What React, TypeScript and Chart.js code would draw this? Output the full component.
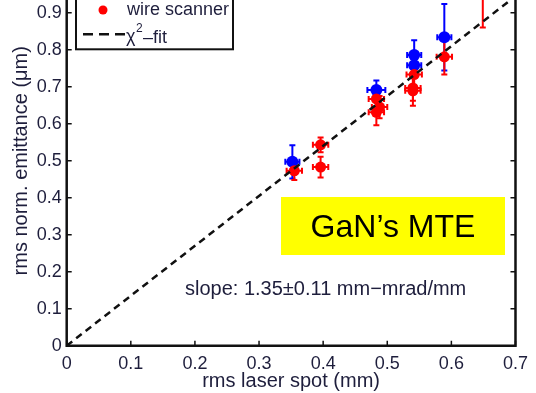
import React, { useEffect, useRef } from "react";
import Chart from "chart.js/auto";

// ---- data ----
const xTickValues = [0, 0.1, 0.2, 0.3, 0.4, 0.5, 0.6, 0.7];
const yTickValues = [0, 0.1, 0.2, 0.3, 0.4, 0.5, 0.6, 0.7, 0.8, 0.9, 1.0];

// wire scanner (red)
const redX = [0.355, 0.396, 0.396, 0.483, 0.488, 0.483, 0.542, 0.540, 0.540, 0.589, 0.649];
const redY = [0.473, 0.543, 0.483, 0.667, 0.645, 0.631, 0.733, 0.697, 0.689, 0.781, 0.95];
const redYErr = [0.025, 0.02, 0.028, 0.03, 0.03, 0.035, 0.03, 0.035, 0.04, 0.048, 0.09];
const redXErr = [0.012, 0.012, 0.012, 0.012, 0.012, 0.012, 0.012, 0.012, 0.012, 0.012, 0.012];

// second method (blue)
const blueX = [0.352, 0.483, 0.542, 0.542, 0.589];
const blueY = [0.497, 0.691, 0.786, 0.758, 0.834];
const blueYErr = [0.045, 0.026, 0.04, 0.03, 0.09];
const blueXErr = [0.011, 0.014, 0.011, 0.011, 0.011];

// chi^2 fit line
const fitX = [0, 0.7];
const fitY = [0, 0.945];

const legendLabels = ["wire scanner", "χ", "2", "–fit"];
const boxText = "GaN’s MTE";
const slopeText = "slope: 1.35±0.11 mm−mrad/mm";
const xTitle = "rms laser spot (mm)";
const yTitle = "rms norm. emittance (μm)";

const OFF = 40; // canvas shifted up so the top of the axes is cropped
const W = 536;
const H = 393 + OFF;
const TXT = "#1e1e3c";
const FONT = "'Liberation Sans', Arial, Helvetica, sans-serif";

function drawErr(ctx: CanvasRenderingContext2D, xs: any, ys: any, X: number[], Y: number[], EY: number[], EX: number[], color: string) {
  ctx.save();
  ctx.strokeStyle = color;
  ctx.lineWidth = 2;
  const cap = 3;
  for (let i = 0; i < X.length; i++) {
    const px = xs.getPixelForValue(X[i]);
    const py = ys.getPixelForValue(Y[i]);
    const y1 = ys.getPixelForValue(Y[i] + EY[i]);
    const y2 = ys.getPixelForValue(Y[i] - EY[i]);
    const x1 = xs.getPixelForValue(X[i] - EX[i]);
    const x2 = xs.getPixelForValue(X[i] + EX[i]);
    ctx.beginPath();
    ctx.moveTo(px, y1); ctx.lineTo(px, y2);
    ctx.moveTo(px - cap, y1); ctx.lineTo(px + cap, y1);
    ctx.moveTo(px - cap, y2); ctx.lineTo(px + cap, y2);
    ctx.moveTo(x1, py); ctx.lineTo(x2, py);
    ctx.moveTo(x1, py - cap); ctx.lineTo(x1, py + cap);
    ctx.moveTo(x2, py - cap); ctx.lineTo(x2, py + cap);
    ctx.stroke();
  }
  ctx.restore();
}

const annot = {
  id: "annot",
  beforeDatasetsDraw(chart: any) {
    const { ctx, scales } = chart;
    drawErr(ctx, scales.x, scales.y, blueX, blueY, blueYErr, blueXErr, "#0000ff");
    drawErr(ctx, scales.x, scales.y, redX, redY, redYErr, redXErr, "#ff0000");
  },
  afterDraw(chart: any) {
    const { ctx, chartArea, scales } = chart;
    const { left: L, right: R, top: T, bottom: B } = chartArea;
    ctx.save();
    // frame
    ctx.strokeStyle = "#111";
    ctx.lineWidth = 2.5;
    ctx.beginPath();
    ctx.moveTo(L, T); ctx.lineTo(L, B); ctx.lineTo(R, B); ctx.lineTo(R, T); ctx.lineTo(L, T);
    ctx.stroke();
    // inward ticks
    ctx.lineWidth = 1.5;
    ctx.beginPath();
    for (const v of yTickValues) {
      const py = scales.y.getPixelForValue(v);
      ctx.moveTo(L, py); ctx.lineTo(L + 5, py);
      ctx.moveTo(R, py); ctx.lineTo(R - 5, py);
    }
    for (const v of xTickValues) {
      const px = scales.x.getPixelForValue(v);
      ctx.moveTo(px, B); ctx.lineTo(px, B - 5);
      ctx.moveTo(px, T); ctx.lineTo(px, T + 5);
    }
    ctx.stroke();

    // legend box
    ctx.fillStyle = "#fff";
    ctx.fillRect(76, 0, 157, 49.3 + OFF);
    ctx.strokeStyle = "#111";
    ctx.lineWidth = 2;
    ctx.strokeRect(76, 0, 157, 49.3 + OFF);
    ctx.fillStyle = "#ff0000";
    ctx.beginPath();
    ctx.arc(103, 10 + OFF, 4.5, 0, Math.PI * 2);
    ctx.fill();
    ctx.fillStyle = TXT;
    ctx.font = `18px ${FONT}`;
    ctx.textBaseline = "alphabetic";
    ctx.textAlign = "left";
    ctx.fillText(legendLabels[0], 127, 15 + OFF);
    ctx.strokeStyle = "#111";
    ctx.lineWidth = 2.5;
    ctx.setLineDash([10, 6]);
    ctx.beginPath();
    ctx.moveTo(83, 34.3 + OFF); ctx.lineTo(125, 34.3 + OFF);
    ctx.stroke();
    ctx.setLineDash([]);
    ctx.fillText(legendLabels[1], 126, 42 + OFF);
    ctx.font = `12px ${FONT}`;
    ctx.fillText(legendLabels[2], 136, 32 + OFF);
    ctx.font = `18px ${FONT}`;
    ctx.fillText(legendLabels[3], 143, 43.3 + OFF);

    // yellow box
    ctx.fillStyle = "#ffff00";
    ctx.fillRect(281, 197 + OFF, 224, 58);
    ctx.fillStyle = "#000";
    ctx.font = `32px ${FONT}`;
    ctx.textAlign = "center";
    ctx.fillText(boxText, 393, 236.7 + OFF);

    // slope text
    ctx.fillStyle = TXT;
    ctx.font = `20px ${FONT}`;
    ctx.textAlign = "left";
    ctx.fillText(slopeText, 185, 294.5 + OFF);

    // axis titles
    ctx.textAlign = "center";
    ctx.fillText(xTitle, (L + R) / 2, 387 + OFF);
    ctx.save();
    ctx.translate(26.5, (T + B) / 2);
    ctx.rotate(-Math.PI / 2);
    ctx.fillText(yTitle, 0, 0);
    ctx.restore();
    ctx.restore();
  },
};

export default function App() {
  const ref = useRef<HTMLCanvasElement | null>(null);
  useEffect(() => {
    if (!ref.current) return;
    const chart = new Chart(ref.current, {
      type: "scatter",
      data: {
        datasets: [
          {
            type: "line",
            label: "fit",
            data: fitX.map((x, i) => ({ x, y: fitY[i] })),
            borderColor: "#111",
            borderWidth: 2.5,
            borderDash: [7, 5],
            pointRadius: 0,
            fill: false,
            order: 0,
          } as any,
          {
            label: "wire scanner",
            data: redX.map((x, i) => ({ x, y: redY[i] })),
            backgroundColor: "#ff0000",
            borderWidth: 0,
            pointRadius: 5.5,
            order: 1,
          },
          {
            label: "blue",
            data: blueX.map((x, i) => ({ x, y: blueY[i] })),
            backgroundColor: "#0000ff",
            borderWidth: 0,
            pointRadius: 6,
            order: 2,
          },
        ],
      },
      options: {
        animation: false,
        responsive: false,
        maintainAspectRatio: false,
        layout: { padding: { left: 0, right: 13, top: 7.2, bottom: 0 } },
        plugins: { legend: { display: false }, tooltip: { enabled: false }, title: { display: false } },
        scales: {
          x: {
            type: "linear",
            min: 0,
            max: 0.7,
            border: { display: false },
            grid: { display: false, drawTicks: false },
            afterBuildTicks: (s: any) => { s.ticks = xTickValues.map((v) => ({ value: v })); },
            afterFit: (s: any) => { s.height = H - (345.7 + OFF); },
            ticks: {
              padding: 8,
              color: TXT,
              font: { size: 18, family: FONT },
              callback: (v: any) => String(Number(Number(v).toFixed(1))),
            },
          },
          y: {
            type: "linear",
            min: 0,
            max: 1.0,
            border: { display: false },
            grid: { display: false, drawTicks: false },
            afterBuildTicks: (s: any) => { s.ticks = yTickValues.map((v) => ({ value: v })); },
            afterFit: (s: any) => { s.width = 66.7; },
            ticks: {
              padding: 5,
              color: TXT,
              font: { size: 18, family: FONT },
              callback: (v: any) => String(Number(Number(v).toFixed(1))),
            },
          },
        },
      },
      plugins: [annot],
    });
    return () => chart.destroy();
  }, []);
  return (
    <div style={{ position: "fixed", left: 0, top: 0, width: W, height: 393, overflow: "hidden", background: "#fff" }}>
      <canvas ref={ref} width={W} height={H} style={{ position: "absolute", left: 0, top: -OFF, width: W, height: H }} />
    </div>
  );
}
